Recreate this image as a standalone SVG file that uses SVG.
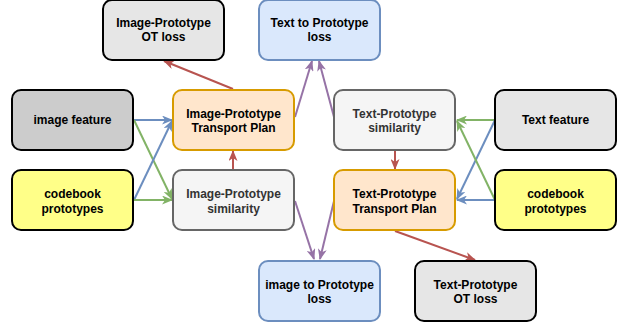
<svg xmlns="http://www.w3.org/2000/svg" width="627" height="327" viewBox="0 0 627 327">
<defs>
<style>
.n rect{stroke-width:2}
.t{font-family:"Liberation Sans",Arial,Helvetica,sans-serif;font-size:12px;font-weight:bold;text-anchor:middle;fill:#000}
.g{fill:#333333}
.gray rect{fill:#e6e6e6;stroke:#000}
.feat rect{fill:#cccccc;stroke:#000}
.yel rect{fill:#ffff88;stroke:#000}
.org rect{fill:#ffe6cc;stroke:#d79b00}
.lt rect{fill:#f5f5f5;stroke:#666666}
.blu rect{fill:#dae8fc;stroke:#6c8ebf}
.e{fill:none;stroke-width:2}
.red{stroke:#b85450}
.bl{stroke:#6c8ebf}
.gr{stroke:#82b366}
.pu{stroke:#9673a6}
</style>
<marker id="mr" viewBox="0 0 11 9" refX="10" refY="4.5" markerWidth="11" markerHeight="9" markerUnits="userSpaceOnUse" orient="auto"><path d="M0,0 L11,4.5 L0,9 L3,4.5 Z" fill="#b85450"/></marker>
<marker id="mb" viewBox="0 0 11 9" refX="10" refY="4.5" markerWidth="11" markerHeight="9" markerUnits="userSpaceOnUse" orient="auto"><path d="M0,0 L11,4.5 L0,9 L3,4.5 Z" fill="#6c8ebf"/></marker>
<marker id="mg" viewBox="0 0 11 9" refX="10" refY="4.5" markerWidth="11" markerHeight="9" markerUnits="userSpaceOnUse" orient="auto"><path d="M0,0 L11,4.5 L0,9 L3,4.5 Z" fill="#82b366"/></marker>
<marker id="mp" viewBox="0 0 11 9" refX="10" refY="4.5" markerWidth="11" markerHeight="9" markerUnits="userSpaceOnUse" orient="auto"><path d="M0,0 L11,4.5 L0,9 L3,4.5 Z" fill="#9673a6"/></marker>
</defs>
<rect width="627" height="327" fill="#ffffff"/>
<g id="connectors">
<path class="e red" d="M233,89 L164,61" marker-end="url(#mr)"/>
<path class="e red" d="M233,170 L233,151" marker-end="url(#mr)"/>
<path class="e red" d="M395,150 L395,169" marker-end="url(#mr)"/>
<path class="e red" d="M395,231 L475,260" marker-end="url(#mr)"/>
<path class="e bl" d="M134,120 L172,120" marker-end="url(#mb)"/>
<path class="e gr" d="M134,120 L172,199" marker-end="url(#mg)"/>
<path class="e bl" d="M134,200 L172,121" marker-end="url(#mb)"/>
<path class="e gr" d="M134,200 L172,200" marker-end="url(#mg)"/>
<path class="e gr" d="M495,120 L457,120" marker-end="url(#mg)"/>
<path class="e bl" d="M495,120 L457,199" marker-end="url(#mb)"/>
<path class="e gr" d="M495,200 L457,121" marker-end="url(#mg)"/>
<path class="e bl" d="M495,200 L457,200" marker-end="url(#mb)"/>
<path class="e pu" d="M295,117 L312,61" marker-end="url(#mp)"/>
<path class="e pu" d="M334,117 L319,61" marker-end="url(#mp)"/>
<path class="e pu" d="M295,201 L314,259" marker-end="url(#mp)"/>
<path class="e pu" d="M334,201 L320,259" marker-end="url(#mp)"/>
</g>
<g id="img-ot-loss" class="n gray"><rect x="103" y="0" width="121" height="60" rx="9"/><text class="t" x="163.5" y="27">Image-Prototype</text><text class="t" x="163.5" y="41">OT loss</text></g>
<g id="text-proto-loss" class="n blu"><rect x="259" y="0" width="121" height="60" rx="9"/><text class="t" x="319.5" y="27">Text to Prototype</text><text class="t" x="319.5" y="41">loss</text></g>
<g id="image-feature" class="n feat"><rect x="12" y="90" width="121" height="60" rx="9"/><text class="t" x="72.5" y="124">image feature</text></g>
<g id="img-tp" class="n org"><rect x="173" y="90" width="121" height="60" rx="9"/><text class="t" x="233.5" y="118">Image-Prototype</text><text class="t" x="233.5" y="132">Transport Plan</text></g>
<g id="text-sim" class="n lt"><rect x="334" y="90" width="121" height="60" rx="9"/><text class="t g" x="394.5" y="118">Text-Prototype</text><text class="t g" x="394.5" y="132">similarity</text></g>
<g id="text-feature" class="n gray"><rect x="495" y="90" width="121" height="60" rx="9"/><text class="t" x="555.5" y="124">Text feature</text></g>
<g id="codebook-left" class="n yel"><rect x="12" y="170" width="121" height="60" rx="9"/><text class="t" x="72.5" y="198">codebook</text><text class="t" x="72.5" y="213">prototypes</text></g>
<g id="img-sim" class="n lt"><rect x="173" y="170" width="121" height="60" rx="9"/><text class="t g" x="233.5" y="198">Image-Prototype</text><text class="t g" x="233.5" y="213">similarity</text></g>
<g id="text-tp" class="n org"><rect x="334" y="170" width="121" height="60" rx="9"/><text class="t" x="394.5" y="198">Text-Prototype</text><text class="t" x="394.5" y="213">Transport Plan</text></g>
<g id="codebook-right" class="n yel"><rect x="495" y="170" width="121" height="60" rx="9"/><text class="t" x="555.5" y="198">codebook</text><text class="t" x="555.5" y="213">prototypes</text></g>
<g id="image-proto-loss" class="n blu"><rect x="259" y="261" width="121" height="60" rx="9"/><text class="t" x="319.5" y="289">image to Prototype</text><text class="t" x="319.5" y="303">loss</text></g>
<g id="text-ot-loss" class="n gray"><rect x="415" y="261" width="121" height="60" rx="9"/><text class="t" x="475.5" y="289">Text-Prototype</text><text class="t" x="475.5" y="303">OT loss</text></g>
</svg>
